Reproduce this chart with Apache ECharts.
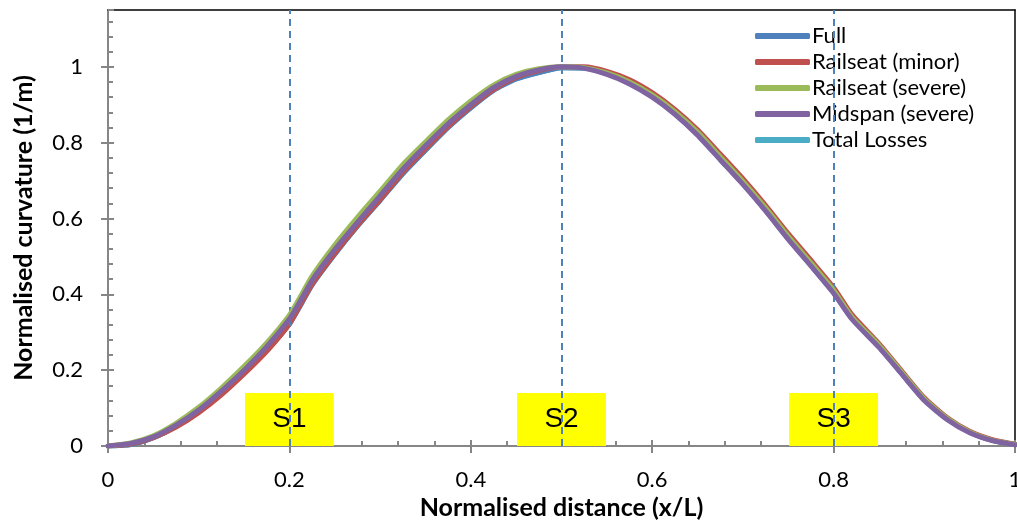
<!DOCTYPE html>
<html>
<head>
<meta charset="utf-8">
<script src="https://cdn.jsdelivr.net/npm/echarts@6/dist/echarts.min.js"></script>
<style>
html,body{margin:0;padding:0;background:#fff;}
#c{width:1017px;height:525px;}
</style>
</head>
<body>
<div id="c"></div>
<script>
// ---- data ----
const xPos = [0,0.025,0.05,0.075,0.1,0.125,0.15,0.175,0.2,0.21,0.225,0.25,0.275,0.3,0.325,0.35,0.375,0.4,0.425,0.45,0.475,0.5,0.525,0.55,0.575,0.6,0.625,0.65,0.675,0.7,0.725,0.75,0.775,0.8,0.82,0.85,0.875,0.9,0.925,0.95,0.975,1];
const full        = [0,0.004,0.022,0.052,0.090,0.138,0.192,0.252,0.322,0.362,0.425,0.506,0.580,0.648,0.718,0.780,0.840,0.892,0.938,0.968,0.985,0.998,0.997,0.982,0.957,0.922,0.877,0.822,0.757,0.692,0.622,0.547,0.477,0.405,0.337,0.262,0.192,0.122,0.072,0.037,0.015,0.004];
const railMinor   = [0,0.005,0.022,0.050,0.088,0.135,0.190,0.250,0.322,0.364,0.427,0.508,0.582,0.650,0.722,0.784,0.843,0.895,0.940,0.972,0.990,1.000,1.000,0.988,0.966,0.932,0.888,0.834,0.770,0.705,0.635,0.560,0.490,0.418,0.347,0.270,0.198,0.127,0.075,0.039,0.017,0.005];
const railSevere  = [0,0.008,0.027,0.060,0.102,0.153,0.210,0.272,0.345,0.385,0.448,0.530,0.603,0.672,0.742,0.802,0.860,0.910,0.952,0.980,0.995,1.000,0.998,0.984,0.960,0.926,0.882,0.828,0.763,0.698,0.628,0.553,0.483,0.411,0.341,0.266,0.195,0.124,0.073,0.037,0.015,0.004];
const midspan     = [0,0.007,0.024,0.055,0.095,0.145,0.200,0.262,0.335,0.374,0.437,0.518,0.590,0.660,0.730,0.792,0.850,0.900,0.945,0.975,0.992,1.000,0.996,0.980,0.955,0.920,0.875,0.820,0.755,0.690,0.620,0.545,0.475,0.403,0.335,0.260,0.190,0.120,0.070,0.035,0.014,0.003];
const totalLosses = [0,0.004,0.022,0.052,0.090,0.138,0.192,0.252,0.322,0.362,0.425,0.506,0.580,0.648,0.718,0.780,0.840,0.892,0.938,0.968,0.985,0.998,0.997,0.982,0.957,0.922,0.877,0.822,0.757,0.692,0.622,0.547,0.477,0.405,0.337,0.262,0.192,0.122,0.072,0.037,0.015,0.004];
const seriesNames = ['Full','Railseat (minor)','Railseat (severe)','Midspan (severe)','Total Losses'];
const seriesColors = ['#4F81BD','#C0504D','#9BBB59','#8064A2','#4BACC6'];
const seriesZ = [3,4,5,6,2];
const sectionX = [0.2,0.5,0.8];
const sectionLabels = ['S1','S2','S3'];
const boxHalfWidth = 0.049;
const boxHeight = 0.14;

const FONT = 'Lato';
const values = [full, railMinor, railSevere, midspan, totalLosses];
const TICK = '#868686';

const lineSeries = seriesNames.map((n,i)=>({
  name:n, type:'line', xAxisIndex:0, yAxisIndex:0,
  data: xPos.map((x,k)=>[x, values[i][k]]),
  showSymbol:false, smooth:0.2, z:seriesZ[i],
  lineStyle:{width:5, color:seriesColors[i], cap:'round', join:'round'},
  itemStyle:{color:seriesColors[i]},
  silent:true, animation:false
}));

const fmt = v=>String(+v.toFixed(2));

const option = {
  animation:false,
  backgroundColor:'#fff',
  grid:{left:108, right:2, top:10, bottom:79, containLabel:false, outerBoundsMode:'none'},
  legend:{
    orient:'vertical', left:750, top:20,
    data: seriesNames,
    icon:'roundRect', itemWidth:55, itemHeight:6, itemGap:4,
    textStyle:{fontFamily:FONT, fontSize:22, color:'#000', lineHeight:22, padding:[0,0,0,-3]},
  },
  xAxis:[{
    type:'value', min:0, max:1, interval:0.2, position:'bottom',
    axisLine:{show:true, onZero:false, lineStyle:{color:TICK, width:2}},
    axisTick:{show:true, inside:false, length:7, lineStyle:{color:TICK, width:2}},
    minorTick:{show:false},
    splitLine:{show:false},
    axisLabel:{fontFamily:FONT, fontSize:22, color:'#000', margin:23, formatter:fmt},
    name:'Normalised distance (x/L)', nameLocation:'middle', nameGap:49,
    nameTextStyle:{fontFamily:FONT, fontSize:25, fontWeight:'bold', color:'#000'}
  },{
    type:'value', min:0, max:1, interval:0.2, position:'bottom',
    axisLine:{show:false, onZero:false},
    axisTick:{show:true, inside:true, length:6, lineStyle:{color:TICK, width:2}},
    minorTick:{show:true, splitNumber:5, length:5, lineStyle:{color:TICK, width:2}},
    splitLine:{show:false}, axisLabel:{show:false}
  },{
    type:'value', min:0, max:1, position:'top',
    axisLine:{show:true, onZero:false, lineStyle:{color:'#000', width:1.5}},
    axisTick:{show:false}, axisLabel:{show:false}, splitLine:{show:false}
  }],
  yAxis:[{
    type:'value', min:0, max:1.15, interval:0.2, position:'left',
    axisLine:{show:true, onZero:false, lineStyle:{color:TICK, width:2}},
    axisTick:{show:true, inside:false, length:7, lineStyle:{color:TICK, width:2}},
    minorTick:{show:false},
    splitLine:{show:false},
    axisLabel:{fontFamily:FONT, fontSize:22, color:'#000', margin:25, showMaxLabel:false, formatter:fmt},
    name:'Normalised curvature (1/m)', nameLocation:'middle', nameGap:72, nameRotate:90,
    nameTextStyle:{fontFamily:FONT, fontSize:25, fontWeight:'bold', color:'#000'}
  },{
    type:'value', min:0, max:1.15, interval:0.2, position:'left',
    axisLine:{show:false, onZero:false},
    axisTick:{show:true, inside:true, length:6, lineStyle:{color:TICK, width:2}},
    minorTick:{show:true, splitNumber:5, length:5, lineStyle:{color:TICK, width:2}},
    splitLine:{show:false}, axisLabel:{show:false, showMaxLabel:false}
  },{
    type:'value', min:0, max:1.15, position:'right',
    axisLine:{show:true, onZero:false, lineStyle:{color:'#000', width:1.5}},
    axisTick:{show:false}, axisLabel:{show:false}, splitLine:{show:false}
  }],
  series:[
    {
      type:'line', name:'_sections', data:[], xAxisIndex:0, yAxisIndex:0, z:1, silent:true,
      markLine:{
        silent:true, symbol:['none','none'], animation:false,
        label:{show:false},
        lineStyle:{color:'#4F81BD', width:2, type:[7,5]},
        data: sectionX.map(x=>({xAxis:x}))
      }
    },
    {
      type:'line', name:'_boxes', data:[], xAxisIndex:0, yAxisIndex:0, z:2, silent:true,
      markArea:{
        silent:true, animation:false,
        itemStyle:{color:'#FFFF00', opacity:1},
        label:{show:true, position:'inside', fontFamily:'Liberation Sans', fontSize:28, color:'#000'},
        data: sectionX.map((x,i)=>[{xAxis:x-boxHalfWidth, yAxis:0, name:sectionLabels[i]},{xAxis:x+boxHalfWidth, yAxis:boxHeight}])
      }
    },
    ...lineSeries
  ]
};
const chart = echarts.init(document.getElementById('c'), null, {renderer:'canvas'});
chart.setOption(option);
</script>
</body>
</html>
